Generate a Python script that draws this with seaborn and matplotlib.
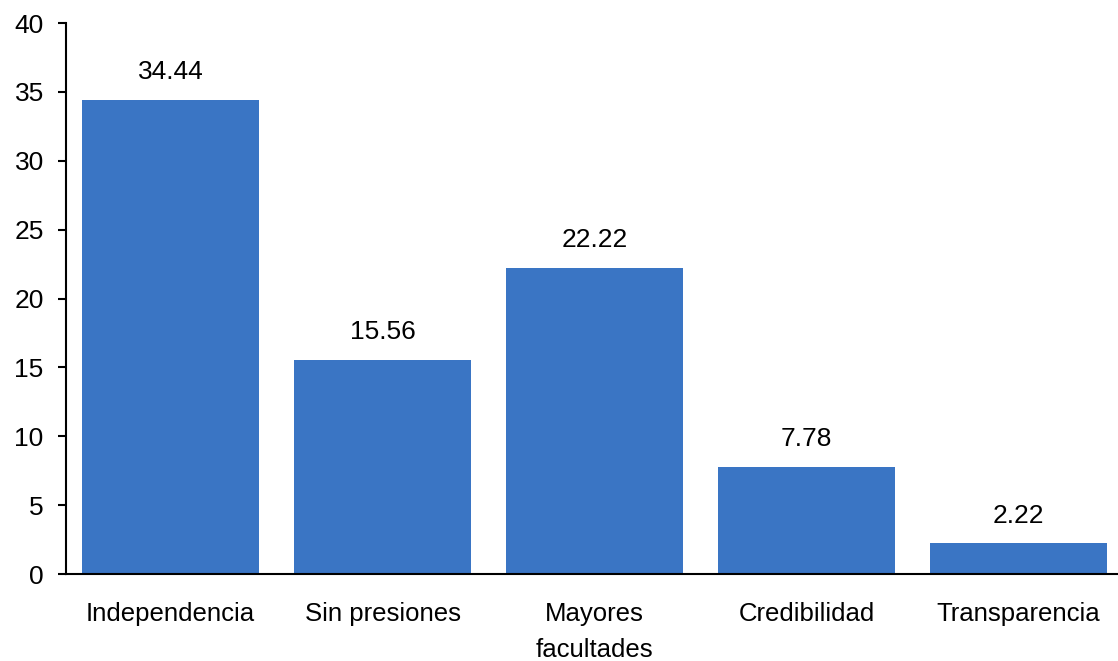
import matplotlib
matplotlib.use("Agg")
import matplotlib.pyplot as plt
import seaborn as sns
import pandas as pd

categories = ["Independencia", "Sin presiones", "Mayores\nfacultades", "Credibilidad", "Transparencia"]
values = [34.44, 15.56, 22.22, 7.78, 2.22]
yticks = [0, 5, 10, 15, 20, 25, 30, 35, 40]

sns.set_theme(style="white")
plt.rcParams['font.family'] = ['Liberation Sans', 'DejaVu Sans']
plt.rcParams['text.color'] = 'black'
plt.rcParams['xtick.color'] = 'black'
plt.rcParams['ytick.color'] = 'black'

df = pd.DataFrame({"cat": categories, "val": values})
fig = plt.figure(figsize=(11.18, 6.61), dpi=100)
ax = fig.add_axes([0.059, 0.1316, 0.941, 0.8336])
sns.barplot(data=df, x="cat", y="val", color="#3A75C4", saturation=1, width=0.835,
            linewidth=0, ax=ax)
ax.set_xlim(-0.493, 4.469)
ax.set_ylim(0, 40)
ax.set_yticks(yticks)
ax.set_xlabel("")
ax.set_ylabel("")
for s in ["top", "right"]:
    ax.spines[s].set_visible(False)
for s in ["left", "bottom"]:
    ax.spines[s].set_color("black")
    ax.spines[s].set_linewidth(1.5)
ax.tick_params(axis="y", length=6, width=1.5, color="black", labelsize=19, pad=10, left=True)
ax.tick_params(axis="x", length=0, labelsize=18.5, pad=20)
for lab in ax.get_xticklabels():
    lab.set_linespacing(1.65)
for i, v in enumerate(values):
    ax.text(i, v + 1.15, f"{v:.2f}", ha="center", va="bottom", fontsize=19)
fig.savefig("out.png", dpi=100)
